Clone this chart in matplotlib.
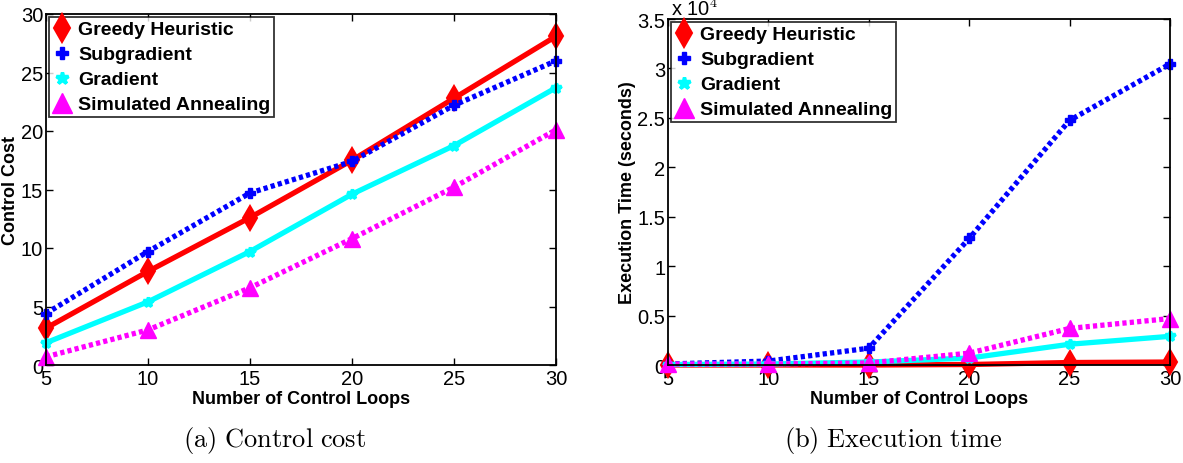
import matplotlib
matplotlib.use("Agg")
import matplotlib.pyplot as plt
from matplotlib.lines import Line2D

plt.rcParams['font.family'] = ['Liberation Sans', 'DejaVu Sans']
plt.rcParams['mathtext.fontset'] = 'cm'

loops = [5, 10, 15, 20, 25, 30]
series_names = ["Greedy Heuristic", "Subgradient", "Gradient", "Simulated Annealing"]

# Control cost per method
cost_greedy = [3.15, 8.0, 12.6, 17.5, 22.8, 28.1]
cost_subgrad = [4.4, 9.7, 14.7, 17.4, 22.2, 26.0]
cost_grad = [1.9, 5.4, 9.7, 14.6, 18.75, 23.7]
cost_sa = [0.7, 3.0, 6.6, 10.8, 15.2, 20.1]

# Execution time per method (x 10^4 seconds)
time_greedy = [0.0, 0.0, 0.0, 0.005, 0.025, 0.03]
time_subgrad = [0.01, 0.04, 0.17, 1.28, 2.475, 3.045]
time_grad = [0.005, 0.01, 0.03, 0.07, 0.21, 0.29]
time_sa = [0.01, 0.01, 0.02, 0.12, 0.37, 0.47]

x_ticks = [5, 10, 15, 20, 25, 30]
cost_ticks = [0, 5, 10, 15, 20, 25, 30]
time_ticks = [0, 0.5, 1, 1.5, 2, 2.5, 3, 3.5]

dots = (0, (0.8, 0.6))
styles = [
    dict(color='red', linestyle='-', marker='d', markersize=12, markeredgewidth=1.5),
    dict(color='blue', linestyle=dots, marker='P', markersize=7, markeredgewidth=1),
    dict(color='cyan', linestyle='-', marker='*', markersize=7, markeredgewidth=2.5),
    dict(color='magenta', linestyle=dots, marker='^', markersize=12, markeredgewidth=1),
]

fig = plt.figure(figsize=(11.83, 4.64), dpi=100)
ax1 = fig.add_axes([46 / 1183, 1 - 366 / 464, (556 - 46) / 1183, (366 - 15) / 464])
ax2 = fig.add_axes([668 / 1183, 1 - 366 / 464, (1170 - 668) / 1183, (366 - 20) / 464])


def draw(ax, data, yticks, ylim, ylabel):
    for vals, st in zip(data, styles):
        ax.plot(loops, vals, linewidth=3.8, clip_on=False, zorder=3, **st)
    ax.set_xlim(5, 30)
    ax.set_ylim(*ylim)
    ax.set_xticks(x_ticks)
    ax.set_yticks(yticks)
    ax.set_yticklabels([f"{t:g}" for t in yticks])
    ax.tick_params(direction='in', top=True, right=True, labelsize=14.5,
                   length=5, width=1, pad=2)
    ax.tick_params(axis='x', pad=3)
    for sp in ax.spines.values():
        sp.set_linewidth(1.3)
        sp.set_zorder(4)
    ax.set_xlabel("Number of Control Loops", fontsize=13, fontweight='bold', labelpad=1)
    ax.set_ylabel(ylabel, fontsize=13, fontweight='bold', labelpad=1)
    handles = [Line2D([], [], linestyle='none', color=st['color'], marker=st['marker'],
                      markersize=st['markersize'] + 2, markeredgewidth=st['markeredgewidth'])
               for st in styles]
    leg = ax.legend(handles, series_names, loc='upper left',
                    prop=dict(weight='bold', size=14), frameon=True, fancybox=False,
                    borderaxespad=0.15, handlelength=0.9, handletextpad=0.4,
                    labelspacing=0.38, borderpad=0.2)
    leg.get_frame().set_edgecolor('black')
    leg.get_frame().set_linewidth(1.3)
    leg.set_zorder(5)


draw(ax1, [cost_greedy, cost_subgrad, cost_grad, cost_sa], cost_ticks, (0, 30), "Control Cost")
draw(ax2, [time_greedy, time_subgrad, time_grad, time_sa], time_ticks, (0, 3.5),
     "Execution Time (seconds)")

ax2.text(0.005, 1.0, r"x 10$^4$", transform=ax2.transAxes, fontsize=14.5,
         ha='left', va='bottom')

fig.text(275 / 1183, 1 - 441 / 464, r"$\mathrm{(a)\ Control\ cost}$", fontsize=19,
         ha='center', va='center')
fig.text(893 / 1183, 1 - 441 / 464, r"$\mathrm{(b)\ Execution\ time}$", fontsize=19,
         ha='center', va='center')

fig.savefig("out.png", dpi=100)
